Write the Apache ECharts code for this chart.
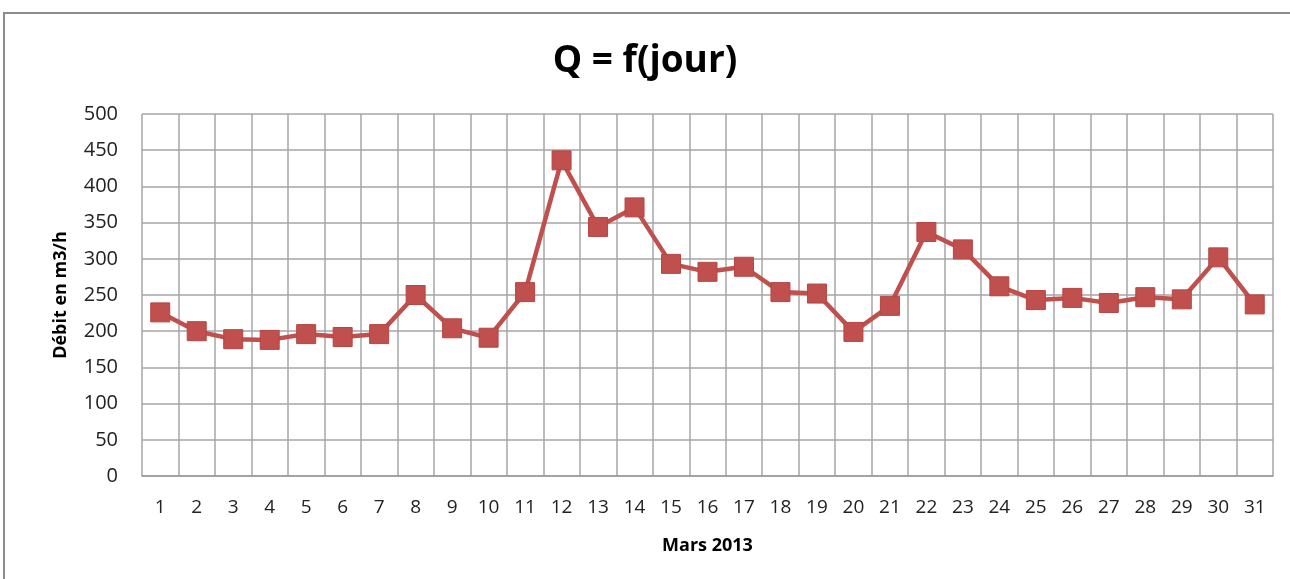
<!DOCTYPE html>
<html>
<head>
<meta charset="utf-8">
<script src="https://cdn.jsdelivr.net/npm/echarts@6/dist/echarts.min.js"></script>
<style>
  html, body { margin: 0; padding: 0; background: #fff; }
  #chart { width: 1290px; height: 579px; }
</style>
</head>
<body>
<div id="chart"></div>
<script>
// jours de mars 2013
const jours = ['1','2','3','4','5','6','7','8','9','10','11','12','13','14','15','16',
  '17','18','19','20','21','22','23','24','25','26','27','28','29','30','31']
// débit en m3/h
const debit = [226, 200, 189, 188, 196, 192, 196, 250, 204, 191, 254, 436, 344, 371, 293, 282,
  289, 254, 252, 199, 235, 337, 313, 262, 243, 246, 239, 247, 244, 302, 237]

const myChart = echarts.init(document.getElementById('chart'))
myChart.setOption({
  animation: false,
  title: {
    text: 'Q = f(jour)',
    left: 'center',
    top: 38,
    textStyle: { fontFamily: 'Open Sans', fontWeight: 'bold', fontSize: 37, color: '#000' }
  },
  // cadre extérieur
  graphic: [{
    type: 'rect',
    shape: { x: 4, y: 13, width: 1320, height: 620 },
    style: { fill: 'none', stroke: '#8c8c8c', lineWidth: 2 }
  }],
  grid: { left: 142, right: 17, top: 114, bottom: 103 },
  xAxis: {
    type: 'category',
    data: jours,
    name: 'Mars 2013',
    nameLocation: 'middle',
    nameGap: 61,
    nameTextStyle: { fontFamily: 'Open Sans', fontWeight: 'bold', fontSize: 18, color: '#000' },
    axisLine: { lineStyle: { color: '#999', width: 1.5 } },
    axisTick: { show: false },
    axisLabel: { margin: 22, fontFamily: 'Open Sans', fontSize: 19, color: '#222' },
    splitLine: { show: true, lineStyle: { color: '#a6a6a6', width: 1.5 } }
  },
  yAxis: {
    type: 'value',
    min: 0,
    max: 500,
    interval: 50,
    name: 'Débit en m3/h',
    nameLocation: 'middle',
    nameGap: 72,
    nameTextStyle: { fontFamily: 'Open Sans', fontWeight: 'bold', fontSize: 18, color: '#000' },
    axisLine: { show: false },
    axisTick: { show: false },
    axisLabel: { margin: 24, fontFamily: 'Open Sans', fontSize: 20, color: '#222' },
    splitLine: { lineStyle: { color: '#a6a6a6', width: 1.5 } }
  },
  series: [{
    type: 'line',
    data: debit,
    symbol: 'rect',
    symbolSize: 19,
    lineStyle: { color: '#c0504d', width: 4.5 },
    itemStyle: { color: '#c0504d', borderColor: '#b64643', borderWidth: 1 }
  }]
})
window.onresize = function () {
  myChart.resize()
}
</script>
</body>
</html>
